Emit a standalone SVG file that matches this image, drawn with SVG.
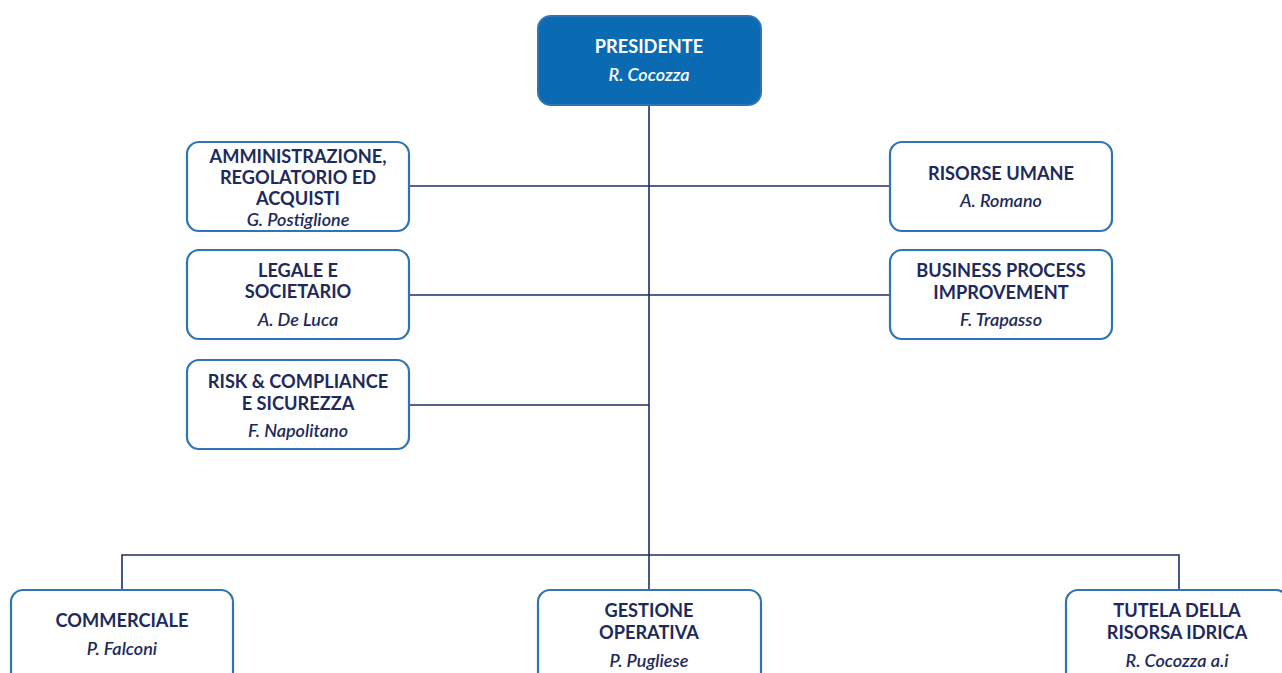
<svg xmlns="http://www.w3.org/2000/svg" width="1282" height="673" viewBox="0 0 1282 673">
<style>
.box{fill:#fff;stroke:#2f74b5;stroke-width:2.2}
.top{fill:#0a6bb3;stroke:#2f74b5;stroke-width:2}
.t{font-family:Lato,"Liberation Sans",sans-serif;font-weight:bold;font-size:18.2px;fill:#1e2a5c;text-anchor:middle}
.n{font-family:Lato,"Liberation Sans",sans-serif;font-style:italic;font-weight:600;font-size:18px;fill:#1e2a5c;text-anchor:middle}
.w{fill:#fff}
.c{fill:none;stroke:#1e2d6a;stroke-width:1.6}
</style>
<rect width="1282" height="673" fill="#fff"/>
<g id="connectors">
<path class="c" d="M649 105V590"/>
<path class="c" d="M409 186H890"/>
<path class="c" d="M409 295H890"/>
<path class="c" d="M409 405H649"/>
<path class="c" d="M122 590V555H1179V590"/>
</g>
<g id="presidente">
<rect class="top" x="538" y="16" width="223" height="89" rx="13"/>
<text class="t w" x="649" y="53">PRESIDENTE</text>
<text class="n w" x="649" y="81">R. Cocozza</text>
</g>
<g id="amministrazione">
<rect class="box" x="187" y="142" width="222" height="89" rx="12"/>
<text class="t" x="298" y="163">AMMINISTRAZIONE,</text>
<text class="t" x="298" y="184">REGOLATORIO ED</text>
<text class="t" x="298" y="205">ACQUISTI</text>
<text class="n" x="298" y="226">G. Postiglione</text>
</g>
<g id="legale">
<rect class="box" x="187" y="250" width="222" height="89" rx="12"/>
<text class="t" x="298" y="277">LEGALE E</text>
<text class="t" x="298" y="298">SOCIETARIO</text>
<text class="n" x="298" y="326">A. De Luca</text>
</g>
<g id="risk">
<rect class="box" x="187" y="360" width="222" height="89" rx="12"/>
<text class="t" x="298" y="388">RISK &amp; COMPLIANCE</text>
<text class="t" x="298" y="410">E SICUREZZA</text>
<text class="n" x="298" y="437">F. Napolitano</text>
</g>
<g id="risorse-umane">
<rect class="box" x="890" y="142" width="222" height="89" rx="12"/>
<text class="t" x="1001" y="180">RISORSE UMANE</text>
<text class="n" x="1001" y="207">A. Romano</text>
</g>
<g id="bpi">
<rect class="box" x="890" y="250" width="222" height="89" rx="12"/>
<text class="t" x="1001" y="277">BUSINESS PROCESS</text>
<text class="t" x="1001" y="299">IMPROVEMENT</text>
<text class="n" x="1001" y="326">F. Trapasso</text>
</g>
<g id="commerciale">
<rect class="box" x="11" y="590" width="222" height="100" rx="12"/>
<text class="t" x="122" y="627">COMMERCIALE</text>
<text class="n" x="122" y="655">P. Falconi</text>
</g>
<g id="gestione">
<rect class="box" x="538" y="590" width="223" height="100" rx="12"/>
<text class="t" x="649" y="617">GESTIONE</text>
<text class="t" x="649" y="639">OPERATIVA</text>
<text class="n" x="649" y="667">P. Pugliese</text>
</g>
<g id="tutela">
<rect class="box" x="1066" y="590" width="222" height="100" rx="12"/>
<text class="t" x="1177" y="617">TUTELA DELLA</text>
<text class="t" x="1177" y="639">RISORSA IDRICA</text>
<text class="n" x="1177" y="667">R. Cocozza a.i</text>
</g>
</svg>
